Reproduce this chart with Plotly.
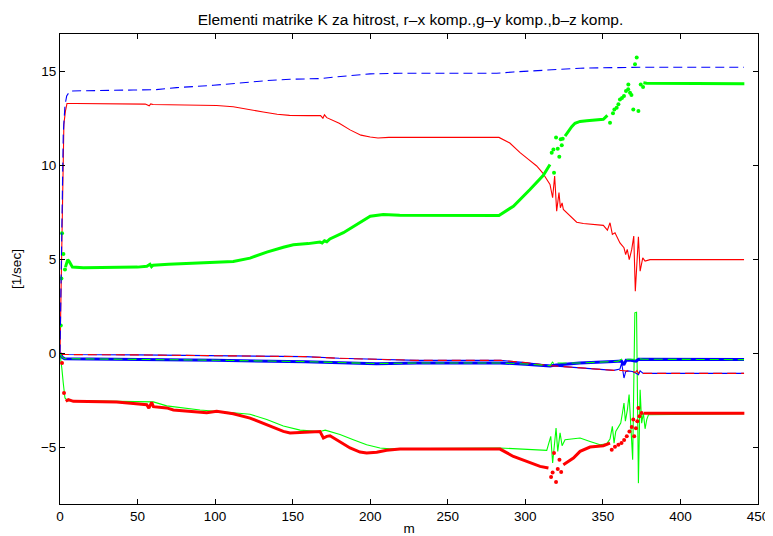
import plotly.graph_objects as go

# ---------------- data ----------------
# red solid (upper curve)
x_r_solid = [0, 0.5, 1.5, 2.5, 3.5, 4.5, 10, 30, 55, 57.5, 58.5, 60, 80, 101, 111.7, 122, 131, 140, 148, 160, 168,
             169.5, 170.5, 172, 180, 187, 194, 200, 205, 212, 283, 290, 296.6, 302, 307.3, 311, 315.9, 317.6, 318.9,
             320.2, 321.7, 322.6, 323.7, 324.5, 329, 333.1, 337.4, 343.9, 350.3, 352.9, 354.6, 356.1, 357.8, 361,
             363.6, 364.7, 365.7, 367, 368.6, 369.9, 370.9, 372.9, 374, 375.7, 377.2, 380.4, 441]
y_r_solid = [0, 3, 9, 12.2, 12.9, 13.3, 13.3, 13.28, 13.27, 13.18, 13.28, 13.25, 13.24, 13.2, 13.13, 13.0, 12.85, 12.73,
             12.67, 12.66, 12.66, 12.52, 12.7, 12.55, 12.25, 11.9, 11.62, 11.52, 11.47, 11.5, 11.5, 11.2, 10.69, 10.33,
             9.98, 9.63, 9.0, 8.29, 9.44, 7.58, 8.56, 7.76, 8.02, 7.67, 7.3, 6.99, 6.92, 6.87, 6.82, 6.57, 6.96, 6.34,
             6.43, 5.89, 5.63, 5.27, 5.54, 5.0, 5.54, 6.25, 3.32, 6.21, 4.38, 5.09, 4.92, 5.0, 5.0]

# green solid (lower thin curve)
x_g_solid = [0, 0.6, 1.2, 2.1, 3.2, 5, 20, 55.9, 60.2, 68.8, 90.3, 111.7, 122.5, 133.3, 144, 154.8, 167.6, 171, 180.5,
             189.1, 197.7, 206.3, 212.7, 283.7, 303, 313.8, 316.4, 317.6, 319.8, 320.9, 322.4, 323.7, 325.6, 335.3,
             341.7, 348.2, 352.4, 354.6, 356.1, 357.2, 358.3, 361.5, 362.6, 363.6, 364.5, 365.8, 366.9, 368, 369.2,
             370.6, 371.7, 372.9, 374, 375, 376.1, 377.2, 378.3, 379.4, 441]
y_g_solid = [0, -0.3, -0.8, -1.56, -2.36, -2.5, -2.52, -2.6, -2.57, -2.78, -3.0, -3.15, -3.23, -3.5, -3.85, -4.07,
             -4.14, -4.07, -4.3, -4.58, -4.85, -5.02, -5.07, -5.02, -5.11, -5.15, -4.4, -5.82, -3.96, -5.2, -4.22,
             -4.9, -4.58, -4.49, -4.67, -4.85, -4.8, -4.55, -3.87, -4.76, -4.14, -3.69, -3.16, -2.63, -3.6, -2.98,
             -2.18, -3.87, -5.64, 2.17, 2.2, -6.89, -1.92, -3.7, -3.16, -4.0, -3.5, -3.25, -3.2]

# blue solid (near zero, lower branch at the right)
x_b_solid = [0, 2, 50, 100, 130, 158, 180, 204, 230, 284, 300, 316, 335, 357, 361, 362.1, 363.6, 364.7, 366, 369,
             371.4, 372.9, 374, 376, 441]
y_b_solid = [0, -0.05, -0.07, -0.1, -0.12, -0.16, -0.25, -0.32, -0.36, -0.36, -0.48, -0.64, -0.77, -0.89, -0.82,
             -0.5, -1.3, -0.96, -0.92, -0.95, -1.05, -1.12, -0.92, -1.05, -1.05]

# red dotted (lower thick curve): continuous parts (None = break) and loose dots
x_r_dot_line = [3.7, 5.4, 8.6, 25.8, 36.5, 47.3, 55.9, 57.3, 59.1, 60.2, 68.8, 73.1, 81.7, 90.3, 94.6, 101, 111.7,
                122.5, 133.3, 144, 148.3, 154.8, 167.6, 169.8, 172, 174.1, 180.5, 187, 193.4, 197.7, 204.2, 210.6,
                219.2, 283.7, 292.3, 300.9, 309.5, 314.9, None,
                324.5, 331, 335.3, 341.7, 350.3, 354.6, None,
                376.5, 441.2]
y_r_dot_line = [-2.54, -2.45, -2.54, -2.57, -2.57, -2.66, -2.72, -2.9, -2.59, -2.82, -2.89, -3.0, -3.07, -3.12,
                -3.15, -3.07, -3.2, -3.43, -3.78, -4.14, -4.22, -4.19, -4.14, -4.49, -4.4, -4.37, -4.67, -5.02,
                -5.24, -5.29, -5.25, -5.14, -5.07, -5.08, -5.47, -5.73, -6.0, -6.09, None,
                -5.91, -5.56, -5.2, -4.97, -4.9, -4.76, None,
                -3.17, -3.17]
x_r_dot_pts = [0.6, 1.3, 2.6, 316.6, 317.6, 318.5, 319.8, 320.9, 322, 323.1, 355.7, 357.8, 360, 362, 363.7, 365.4,
               367.1, 368.6, 369.6, 370.2, 371.3, 372.2, 372.9, 373.6, 375]
y_r_dot_pts = [-0.05, -0.5, -2.09, -6.57, -6.32, -5.29, -6.83, -6.14, -5.64, -6.3, -5.11, -4.95, -4.85, -4.76, -4.6,
               -4.4, -4.14, -3.9, -3.51, -4.4, -3.97, -3.6, -2.89, -3.33, -3.16]

# green dotted (upper thick curve)
x_g_dot_line = [3.5, 5, 6, 8, 15, 30, 50, 56, 58, 59, 60, 70, 90.3, 111.7, 122.5, 133.3, 144, 150.4, 160, 167.6,
                169, 170.5, 172, 174, 182.7, 191.3, 200, 208.4, 219, 283, 292.3, 303, 311.6, 315.9, None,
                325.6, 327.7, 329.9, 332, 335.3, 339.6, 346, 350.3, 352.9, None,
                376.1, 378.2, 441.2]
y_g_dot_line = [4.6, 5.0, 4.9, 4.6, 4.56, 4.57, 4.6, 4.65, 4.75, 4.62, 4.7, 4.75, 4.83, 4.9, 5.08, 5.4, 5.66, 5.79,
                5.85, 5.93, 5.88, 6.0, 5.95, 6.1, 6.43, 6.87, 7.31, 7.4, 7.36, 7.35, 7.84, 8.73, 9.48, 10.06, None,
                11.57, 11.84, 12.07, 12.25, 12.35, 12.39, 12.42, 12.46, 12.67, None,
                14.41, 14.38, 14.36]
x_g_dot_pts = [0.5, 0.9, 1.3, 2.2, 3.2, 317, 318.1, 318.5, 319.8, 320.9, 321.9, 322.8, 323.5, 324.1, 354.6, 356.5,
               357.4, 358.9, 360, 361, 362.3, 363.6, 364.9, 366.3, 366.4, 367.5, 368.4, 369.6, 370.7, 371.8, 372.9,
               374.4, 375.9]
y_g_dot_pts = [1.5, 4.0, 6.4, 5.3, 4.47, 10.69, 10.86, 9.62, 11.49, 10.9, 10.47, 11.4, 11.08, 11.43, 12.28, 12.78,
               12.99, 13.08, 13.26, 13.52, 13.6, 13.7, 13.97, 14.06, 14.32, 13.88, 13.75, 12.99, 15.39, 15.75, 12.9,
               14.32, 14.18]

# blue dotted (near zero, upper branch at the right)
x_b_dot = [0, 1.5, 3, 50, 100, 158, 204, 230, 284, 300, 316, 320, 335, 357, 362, 363.5, 365, 368, 371.4, 373, 376,
           441]
y_b_dot = [0, -0.2, -0.27, -0.3, -0.36, -0.44, -0.54, -0.5, -0.5, -0.56, -0.66, -0.6, -0.5, -0.42, -0.4, -0.6,
           -0.35, -0.35, -0.4, -0.3, -0.3, -0.32]

# red dashed (near zero, lower branch at the right)
x_r_dash = [0, 2, 50, 100, 130, 158, 180, 204, 230, 284, 300, 316, 335, 357, 362, 366, 369, 371, 372, 373, 374, 376,
            441]
y_r_dash = [0, -0.05, -0.07, -0.1, -0.12, -0.16, -0.25, -0.32, -0.36, -0.36, -0.48, -0.64, -0.77, -0.89, -0.9,
            -0.92, -0.95, -1.0, -0.9, -1.05, -0.95, -1.05, -1.05]

# green dashed (near zero, upper branch at the right)
x_g_dash = [0, 1.5, 3, 50, 100, 158, 180, 204, 230, 284, 300, 316, 317.5, 319, 321, 335, 357, 360, 362, 363.5, 366,
            368, 370, 371.4, 374, 376, 441]
y_g_dash = [0, -0.2, -0.27, -0.3, -0.35, -0.43, -0.48, -0.53, -0.5, -0.5, -0.55, -0.64, -0.45, -0.6, -0.5, -0.5,
            -0.42, -0.4, -0.3, -0.38, -0.3, -0.3, -0.3, -0.36, -0.28, -0.3, -0.32]

# blue dashed (upper)
x_b_dash = [0, 1, 2.1, 3.2, 4.3, 6.4, 20, 47.3, 62, 75.2, 98.9, 116, 133.3, 148.3, 167.6, 184.8, 199.9, 219, 281.6,
            292.3, 313.8, 335.3, 356.8, 374, 441]
y_b_dash = [0, 5, 11.7, 13.2, 13.7, 13.97, 14.0, 14.02, 14.04, 14.15, 14.27, 14.41, 14.52, 14.59, 14.63, 14.77,
            14.88, 14.91, 14.91, 14.98, 15.09, 15.18, 15.21, 15.23, 15.23]

x_ticks = [0, 50, 100, 150, 200, 250, 300, 350, 400, 450]
y_ticks = [-5, 0, 5, 10, 15]

TITLE = "Elementi matrike K za hitrost, r\u2013x komp.,g\u2013y komp.,b\u2013z komp."
RED, GREEN, BLUE = "#ff0000", "#00ff00", "#0000ff"

fig = go.Figure()


def line(x, y, color, width, dash="solid"):
    fig.add_trace(go.Scatter(x=x, y=y, mode="lines", connectgaps=False,
                             line=dict(color=color, width=width, dash=dash),
                             showlegend=False, hoverinfo="skip"))


def dots(x, y, color):
    fig.add_trace(go.Scatter(x=x, y=y, mode="markers",
                             marker=dict(color=color, size=4, line=dict(width=0)),
                             showlegend=False, hoverinfo="skip"))


DASH = "9px,5px"
# solid (thin)
line(x_r_solid, y_r_solid, RED, 1.1)
line(x_g_solid, y_g_solid, GREEN, 1.1)
line(x_b_solid, y_b_solid, BLUE, 1.1)
# dotted (thick)
line(x_r_dot_line, y_r_dot_line, RED, 3)
dots(x_r_dot_pts, y_r_dot_pts, RED)
line(x_g_dot_line, y_g_dot_line, GREEN, 3)
dots(x_g_dot_pts, y_g_dot_pts, GREEN)
line(x_b_dot, y_b_dot, BLUE, 3)
# dashed
line(x_r_dash, y_r_dash, RED, 1.1, DASH)
line(x_g_dash, y_g_dash, GREEN, 1.1, DASH)
line(x_b_dash, y_b_dash, BLUE, 1.1, DASH)

# the page body has an 8px margin, so the figure is sized to end at the window edge
W, H = 765, 528
FONT = "Liberation Sans, Arial, sans-serif"
axis_common = dict(showline=True, linecolor="black", linewidth=1, mirror="ticks", ticks="inside", ticklen=5,
                   tickcolor="black", tickwidth=1, showgrid=False, zeroline=False, automargin=False,
                   tickfont=dict(family=FONT, size=13.5, color="black"))

fig.update_layout(
    width=W, height=H,
    margin=dict(l=52, r=15, t=26, b=32, autoexpand=False),
    paper_bgcolor="white", plot_bgcolor="white",
    font=dict(family=FONT, color="black"),
    title=dict(text=TITLE, x=402.5 / W, xanchor="center", y=1 - 11.5 / H, yanchor="middle", yref="container",
               font=dict(family=FONT, size=15.5, color="black")),
    xaxis=dict(range=[0, 450], tickvals=x_ticks, ticklabelstandoff=0,
               title=dict(text="m", standoff=10, font=dict(family=FONT, size=13.5)), **axis_common),
    yaxis=dict(range=[-8, 17], tickvals=y_ticks, ticklabelstandoff=0,
               title=dict(text="[1/sec]", standoff=16, font=dict(family=FONT, size=13.5)), **axis_common),
)

fig.write_html("out.html")
